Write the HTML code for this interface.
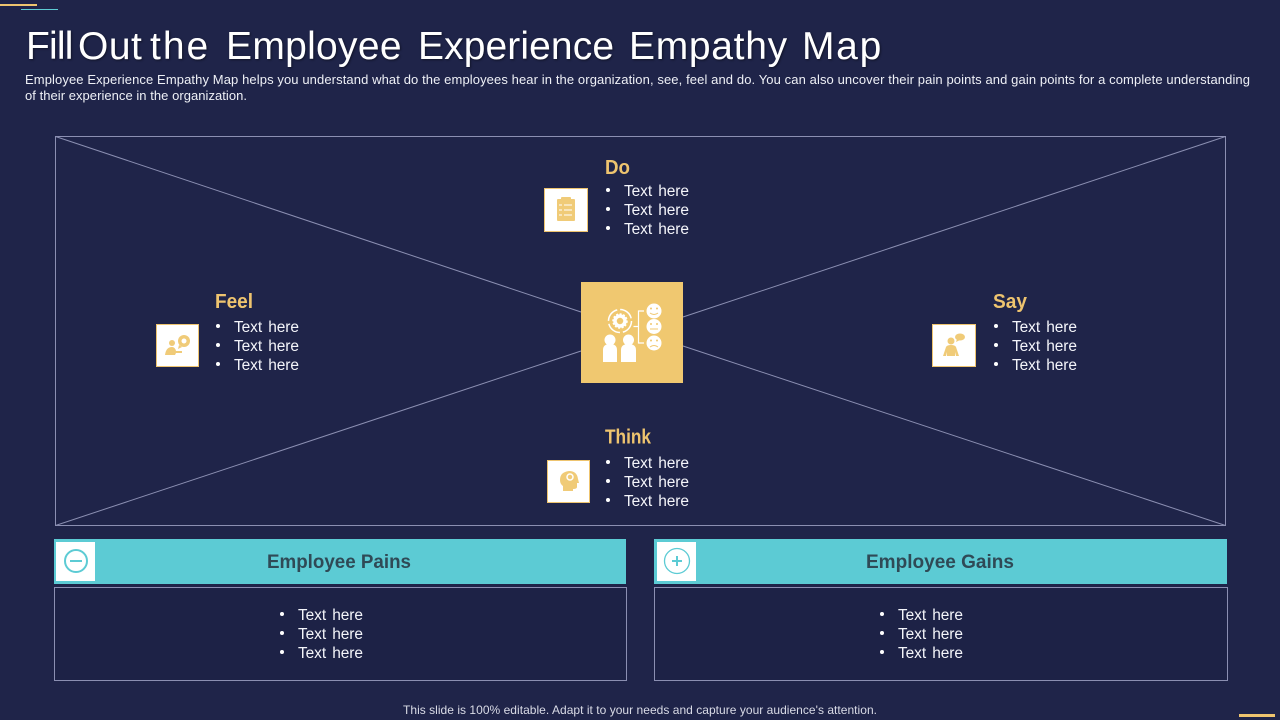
<!DOCTYPE html>
<html lang="en">
<head>
<meta charset="utf-8">
<title>Fill Out the Employee Experience Empathy Map</title>
<style>
html,body{margin:0;padding:0;width:1280px;height:720px;overflow:hidden;background:#1f2449}
svg{display:block;position:absolute;left:0;top:0}
text{font-family:"Liberation Sans",sans-serif;fill:#fff}
.body{font-size:15.5px;letter-spacing:-.1px;word-spacing:2px;fill:#f4f5fa}
.head{font-size:20px;font-weight:bold;fill:#eec46f}
.band{font-size:19.5px;font-weight:bold;fill:#2f4a56}
</style>
</head>
<body>
<svg width="1280" height="720" viewBox="0 0 1280 720">
  <rect width="1280" height="720" fill="#1f2449"/>
  <rect x="0" y="4" width="37" height="2" fill="#eec46f"/>
  <rect x="21" y="9" width="37" height="1" fill="#5ecbd4"/>
  <rect x="1239" y="714" width="36" height="3" fill="#eec46f"/>

  <text y="59" font-size="39" style="fill:#fff;filter:drop-shadow(1px 1px 1px rgba(0,0,0,.45))"><tspan x="26" letter-spacing="-.8">Fill</tspan> <tspan x="78" letter-spacing=".5">Out</tspan> <tspan x="150" letter-spacing="2">the</tspan> <tspan x="226" letter-spacing=".3">Employee</tspan> <tspan x="418" letter-spacing=".1">Experience</tspan> <tspan x="629" letter-spacing=".7">Empathy</tspan> <tspan x="802" letter-spacing="1.700">Map</tspan></text>
  <text x="25" y="84" font-size="13" textLength="1225" lengthAdjust="spacing" style="fill:#eef0f6">Employee Experience Empathy Map helps you understand what do the employees hear in the organization, see, feel and do. You can also uncover their pain points and gain points for a complete understanding</text>
  <text x="25" y="100" font-size="13" textLength="222" lengthAdjust="spacing" style="fill:#eef0f6">of their experience in the organization.</text>

  <g stroke="#8b8fb2" stroke-width="1" fill="none">
    <rect x="55.5" y="136.5" width="1170" height="389"/>
    <line x1="55.5" y1="136.5" x2="581" y2="312"/>
    <line x1="1225.5" y1="136.5" x2="683" y2="317"/>
    <line x1="55.5" y1="525.5" x2="581" y2="351"/>
    <line x1="1225.5" y1="525.5" x2="683" y2="346"/>
  </g>

  <g>
    <rect x="581" y="282" width="102" height="101" fill="#f0c870"/>
    <g fill="#fff">
      <circle cx="610" cy="340" r="5.5"/>
      <path d="M603 362v-12q0-6 7-6t7 6v12z"/>
      <circle cx="628.500" cy="340" r="5.5"/>
      <path d="M621 362v-12q0-6 7.500-6t7.500 6v12z"/>
      <circle cx="654" cy="311" r="7.5"/>
      <circle cx="654" cy="326.500" r="7.500"/>
      <circle cx="654" cy="343" r="7.500"/>
    </g>
    <circle cx="620" cy="321" r="11.500" fill="none" stroke="#fff" stroke-width="1.500" stroke-dasharray="15 3"/>
    <circle cx="620" cy="321" r="5" fill="none" stroke="#fff" stroke-width="3.500"/>
    <circle cx="620" cy="321" r="7" fill="none" stroke="#fff" stroke-width="1.500" stroke-dasharray="2 1.600"/>
    <path d="M644 311h-5.500v32h5.500M638.500 326.500h-5" fill="none" stroke="#fff" stroke-width="1.200"/>
    <g fill="none" stroke="#f0c870" stroke-width="1">
      <path d="M650 313q4 3 8 0"/>
      <path d="M650 329h8"/>
      <path d="M650 347q4-3 8 0"/>
    </g>
    <g fill="#f0c870">
      <circle cx="651" cy="308.500" r="1"/><circle cx="657" cy="308.500" r="1"/>
      <circle cx="651" cy="324" r="1"/><circle cx="657" cy="324" r="1"/>
      <circle cx="651" cy="340.500" r="1"/><circle cx="657" cy="340.500" r="1"/>
    </g>
  </g>

  <g>
    <rect x="544.500" y="188.500" width="43" height="43" fill="#fff" stroke="#eec46f"/>
    <g fill="#f0cb78">
      <rect x="557" y="199" width="18" height="22" rx="1"/>
      <rect x="561" y="197" width="10" height="4" rx="1"/>
    </g>
    <path d="M564 205h8M564 210h8M564 215h8M559 205h3M559 210h3M559 215h3" stroke="#fff" stroke-width="1"/>
    <text class="head" x="605" y="174" textLength="25" lengthAdjust="spacingAndGlyphs">Do</text>
    <g class="list">
      <circle cx="608" cy="190" r="2" fill="#fff"/><text class="body" x="624" y="196">Text here</text>
      <circle cx="608" cy="209" r="2" fill="#fff"/><text class="body" x="624" y="215">Text here</text>
      <circle cx="608" cy="228" r="2" fill="#fff"/><text class="body" x="624" y="234">Text here</text>
    </g>
  </g>

  <g>
    <rect x="156.500" y="324.500" width="42" height="42" fill="#fff" stroke="#eec46f"/>
    <g fill="#f0cb78">
      <circle cx="184" cy="341" r="6"/>
      <path d="M179 345l-1 4 4-2z"/>
      <circle cx="172" cy="343" r="3"/>
      <path d="M165 355q1-8 7-8 3 0 4 4h6v2h-6l-1 2z"/>
    </g>
    <circle cx="184" cy="341" r="2.500" fill="#fff"/>
    <text class="head" x="215" y="308" textLength="38" lengthAdjust="spacingAndGlyphs">Feel</text>
    <g>
      <circle cx="218" cy="326" r="2" fill="#fff"/><text class="body" x="234" y="332">Text here</text>
      <circle cx="218" cy="345" r="2" fill="#fff"/><text class="body" x="234" y="351">Text here</text>
      <circle cx="218" cy="364" r="2" fill="#fff"/><text class="body" x="234" y="370">Text here</text>
    </g>
  </g>

  <g>
    <rect x="932.500" y="324.500" width="43" height="42" fill="#fff" stroke="#eec46f"/>
    <g fill="#f0cb78">
      <circle cx="951" cy="341" r="3.500"/>
      <path d="M943 356l3-9q1-2 5-2t5 2l3 9h-3l-1-4v4h-8v-4l-1 4z"/>
      <ellipse cx="960" cy="337" rx="5" ry="3.500"/>
      <path d="M957 339l-1 3 4-2z"/>
    </g>
    <text class="head" x="993" y="308" textLength="34" lengthAdjust="spacingAndGlyphs">Say</text>
    <g>
      <circle cx="996" cy="326" r="2" fill="#fff"/><text class="body" x="1012" y="332">Text here</text>
      <circle cx="996" cy="345" r="2" fill="#fff"/><text class="body" x="1012" y="351">Text here</text>
      <circle cx="996" cy="364" r="2" fill="#fff"/><text class="body" x="1012" y="370">Text here</text>
    </g>
  </g>

  <g>
    <rect x="547.500" y="460.500" width="42" height="42" fill="#fff" stroke="#eec46f"/>
    <path d="M563 491v-5q-3-2-3-6 0-8 9-9 8 0 9 8l1 4h-2v4q0 2-4 2v2z" fill="#f0cb78"/>
    <circle cx="570" cy="477" r="3" fill="none" stroke="#fff" stroke-width="1.500"/>
    <text class="head" x="605" y="443.500" textLength="46" lengthAdjust="spacingAndGlyphs">Think</text>
    <g>
      <circle cx="608" cy="462" r="2" fill="#fff"/><text class="body" x="624" y="468">Text here</text>
      <circle cx="608" cy="481" r="2" fill="#fff"/><text class="body" x="624" y="487">Text here</text>
      <circle cx="608" cy="500" r="2" fill="#fff"/><text class="body" x="624" y="506">Text here</text>
    </g>
  </g>

  <g>
    <rect x="54" y="539" width="572" height="45" fill="#5ccbd4"/>
    <rect x="56" y="542" width="39" height="39" fill="#fff"/>
    <circle cx="76" cy="561" r="11" fill="none" stroke="#5ccbd4" stroke-width="2"/>
    <rect x="70" y="560" width="12" height="2" fill="#5ccbd4"/>
    <text class="band" x="267" y="568" textLength="144" lengthAdjust="spacingAndGlyphs">Employee Pains</text>
    <rect x="54.500" y="587.500" width="572" height="93" fill="#1d2246" stroke="#8b8fb2"/>
    <g>
      <circle cx="282" cy="614" r="2" fill="#fff"/><text class="body" x="298" y="620">Text here</text>
      <circle cx="282" cy="633" r="2" fill="#fff"/><text class="body" x="298" y="639">Text here</text>
      <circle cx="282" cy="652" r="2" fill="#fff"/><text class="body" x="298" y="658">Text here</text>
    </g>
  </g>

  <g>
    <rect x="654" y="539" width="573" height="45" fill="#5ccbd4"/>
    <rect x="657" y="542" width="39" height="39" fill="#fff"/>
    <circle cx="677" cy="561" r="12.500" fill="none" stroke="#5ccbd4" stroke-width="1.300"/>
    <path d="M672 561h10M677 556v10" stroke="#5ccbd4" stroke-width="2"/>
    <text class="band" x="866" y="568" textLength="148" lengthAdjust="spacingAndGlyphs">Employee Gains</text>
    <rect x="654.500" y="587.500" width="573" height="93" fill="#1d2246" stroke="#8b8fb2"/>
    <g>
      <circle cx="882" cy="614" r="2" fill="#fff"/><text class="body" x="898" y="620">Text here</text>
      <circle cx="882" cy="633" r="2" fill="#fff"/><text class="body" x="898" y="639">Text here</text>
      <circle cx="882" cy="652" r="2" fill="#fff"/><text class="body" x="898" y="658">Text here</text>
    </g>
  </g>

  <text x="640" y="714" font-size="12" text-anchor="middle" textLength="474" lengthAdjust="spacing" style="fill:#d9dbe6">This slide is 100% editable. Adapt it to your needs and capture your audience's attention.</text>
</svg>
</body>
</html>
